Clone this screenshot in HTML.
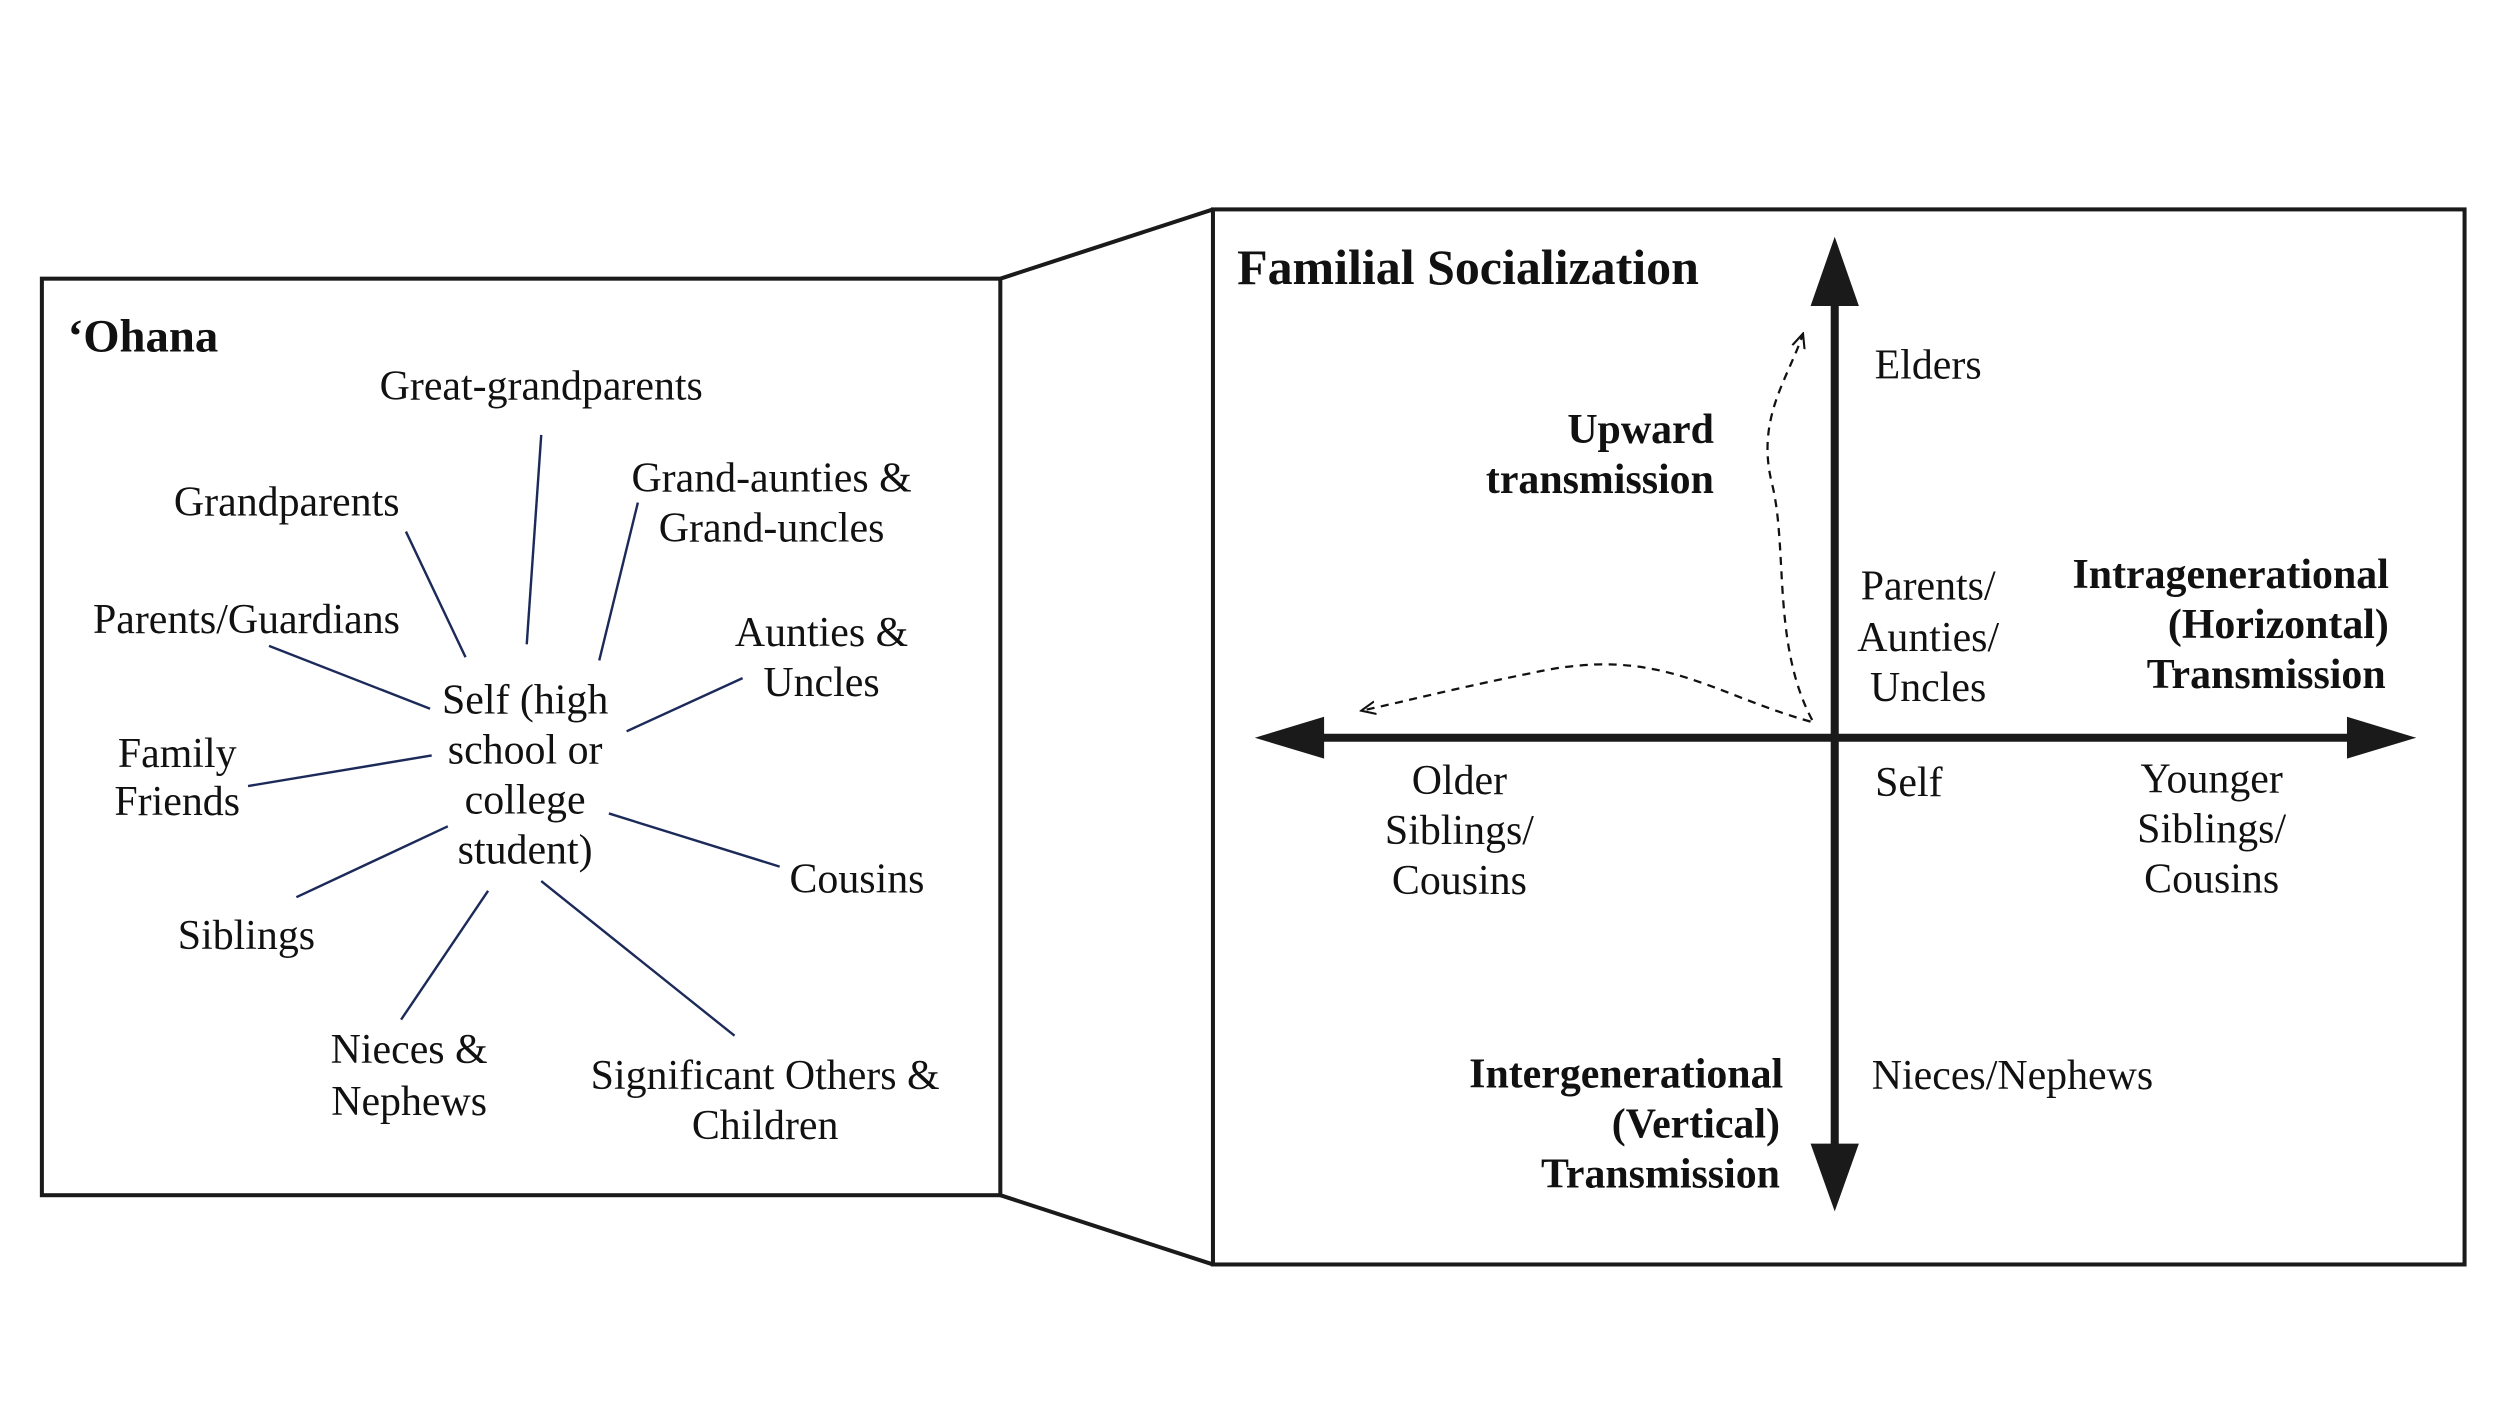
<!DOCTYPE html>
<html><head><meta charset="utf-8"><style>
html,body{margin:0;padding:0;background:#fff;}
svg{display:block;}
text{font-family:"Liberation Serif",serif;font-size:26px;fill:#111;dominant-baseline:central;}
.c{text-anchor:middle;}
.r{text-anchor:end;}
.b{font-weight:bold;}
</style></head><body>
<svg width="2500" height="1403" viewBox="0 0 1552 871" preserveAspectRatio="none" xmlns="http://www.w3.org/2000/svg">
<defs>
<marker id="ah" markerWidth="10" markerHeight="10" refX="8" refY="5" orient="auto" markerUnits="userSpaceOnUse">
<path d="M0,1 L9,5 L0,9" fill="none" stroke="#111" stroke-width="1.3"/>
</marker>
</defs>
<rect x="26" y="173" width="595" height="569" fill="none" stroke="#1a1a1a" stroke-width="2.5"/>
<rect x="753" y="130" width="777" height="655" fill="none" stroke="#1a1a1a" stroke-width="2.5"/>
<line x1="621" y1="173" x2="753" y2="130" stroke="#1a1a1a" stroke-width="2.5"/>
<line x1="621" y1="742" x2="753" y2="785" stroke="#1a1a1a" stroke-width="2.5"/>

<text x="42" y="209" class="b" style="font-size:29px">‘Ohana</text>
<g stroke="#1c2a5a" stroke-width="1.5">
<line x1="336" y1="270" x2="327" y2="400"/>
<line x1="252" y1="330" x2="289" y2="408"/>
<line x1="396" y1="312" x2="372" y2="410"/>
<line x1="167" y1="401" x2="267" y2="440"/>
<line x1="461" y1="421" x2="389" y2="454"/>
<line x1="154" y1="488" x2="268" y2="469"/>
<line x1="378" y1="505" x2="484" y2="538"/>
<line x1="184" y1="557" x2="278" y2="513"/>
<line x1="249" y1="633" x2="303" y2="553"/>
<line x1="456" y1="643" x2="336" y2="547"/>
</g>
<text x="336" y="240" class="c">Great-grandparents</text>
<text x="178" y="312" class="c">Grandparents</text>
<text x="479" y="297" class="c">Grand-aunties &amp;</text>
<text x="479" y="328" class="c">Grand-uncles</text>
<text x="153" y="385" class="c">Parents/Guardians</text>
<text x="510" y="393" class="c">Aunties &amp;</text>
<text x="510" y="424" class="c">Uncles</text>
<text x="326" y="435" class="c">Self (high</text>
<text x="326" y="466" class="c">school or</text>
<text x="326" y="497" class="c">college</text>
<text x="326" y="528" class="c">student)</text>
<text x="110" y="468" class="c">Family</text>
<text x="110" y="498" class="c">Friends</text>
<text x="532" y="546" class="c">Cousins</text>
<text x="153" y="581" class="c">Siblings</text>
<text x="254" y="652" class="c">Nieces &amp;</text>
<text x="254" y="684" class="c">Nephews</text>
<text x="475" y="668" class="c">Significant Others &amp;</text>
<text x="475" y="699" class="c">Children</text>

<text x="768" y="166" class="b" style="font-size:31px">Familial Socialization</text>
<g fill="#1a1a1a" stroke="#1a1a1a">
<line x1="1139" y1="180" x2="1139" y2="720" stroke-width="5"/>
<line x1="812" y1="458" x2="1470" y2="458" stroke-width="5"/>
<polygon points="1139,147 1124,190 1154,190" stroke="none"/>
<polygon points="1139,752 1124,710 1154,710" stroke="none"/>
<polygon points="779,458 822,445 822,471" stroke="none"/>
<polygon points="1500,458 1457,445 1457,471" stroke="none"/>
</g>
<g fill="none" stroke="#111" stroke-width="1.4" stroke-dasharray="5,4">
<path d="M1125,447 C1100,400 1110,340 1100,300 C1090,260 1110,235 1119,208" marker-end="url(#ah)"/>
<path d="M1124,448 C1060,430 1030,400 950,418 C900,428 870,436 846,441" marker-end="url(#ah)"/>
</g>
<text x="1197" y="227" class="c">Elders</text>
<text x="1064" y="267" class="r b">Upward</text>
<text x="1064" y="298" class="r b">transmission</text>
<text x="1197" y="364" class="c">Parents/</text>
<text x="1197" y="396" class="c">Aunties/</text>
<text x="1197" y="427" class="c">Uncles</text>
<text x="1483" y="357" class="r b">Intragenerational</text>
<text x="1483" y="388" class="r b">(Horizontal)</text>
<text x="1481" y="419" class="r b">Transmission</text>
<text x="906" y="485" class="c">Older</text>
<text x="906" y="516" class="c">Siblings/</text>
<text x="906" y="547" class="c">Cousins</text>
<text x="1185" y="486" class="c">Self</text>
<text x="1373" y="484" class="c">Younger</text>
<text x="1373" y="515" class="c">Siblings/</text>
<text x="1373" y="546" class="c">Cousins</text>
<text x="1107" y="667" class="r b">Intergenerational</text>
<text x="1105" y="698" class="r b">(Vertical)</text>
<text x="1105" y="729" class="r b">Transmission</text>
<text x="1162" y="668">Nieces/Nephews</text>
</svg>
</body></html>
